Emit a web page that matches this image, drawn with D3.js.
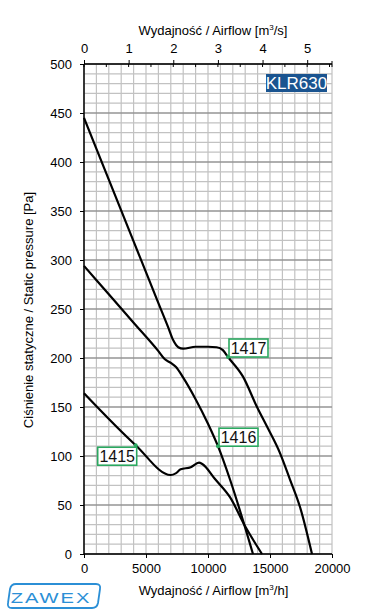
<!DOCTYPE html>
<html><head><meta charset="utf-8">
<script src="https://cdn.jsdelivr.net/npm/d3@7"></script>
<style>body{margin:0;background:#fff;} svg{display:block;font-family:Arial,"Liberation Sans",sans-serif;}</style>
</head><body>
<svg id="c" width="391" height="614"></svg>
<script>
// Data (Q in m3/h, P in Pa)
const q1417 = [0,2000,4000,6000,6800,7200,7600,8000,9000,10000,10700,11200,11613,12823,13952,14758,15806,16613,17419,18387];
const p1417 = [445,382,319,256,231,218,211,209.5,211.5,211.5,211,208,201,181,150,130,103,76,48,0];
const q1416 = [0,2000,4000,6000,6500,7000,7400,8000,9000,10000,10806,11774,13629];
const p1416 = [294,265,236,207,199,195,191,180,158,133,110,76,0];
const q1415 = [0,4169,6992,7395,7798,8605,9274,9540,10565,11774,12984,14355];
const p1415 = [164,111,80.6,82.3,86.4,88.5,93.2,91.8,76.5,58,28.5,0];
const xTicks = [0,5000,10000,15000,20000];
const yTicks = [0,50,100,150,200,250,300,350,400,450,500];
const topTicks = [0,1,2,3,4,5];
const labels = [
  {name:"1417", q:11613, p:201, anchor:"bl"},
  {name:"1416", q:10806, p:110, anchor:"bl"},
  {name:"1415", q:4169, p:111, anchor:"tr"}
];
const modelName = "KLR630";

const svg = d3.select("#c");
const L=84, R=332, T=64, B=554;
const x = d3.scaleLinear().domain([0,20000]).range([L,R]);
const y = d3.scaleLinear().domain([0,500]).range([B,T]);
const xs = d3.scaleLinear().domain([0,20000/3600]).range([L,R]);

// grid
const g = svg.append("g");
d3.range(0,20001,1000).forEach(v=>{
  g.append("line").attr("x1",x(v)).attr("x2",x(v)).attr("y1",T).attr("y2",B)
   .attr("stroke", "#c2c2c2").attr("stroke-width", 1.2);
});
d3.range(0,501,10).forEach(v=>{
  g.append("line").attr("x1",L).attr("x2",R).attr("y1",y(v)).attr("y2",y(v))
   .attr("stroke", v%50===0 ? "#949494" : "#c2c2c2").attr("stroke-width", v%50===0?1.3:1.2);
});

// axes
const ax = svg.append("g").attr("transform",`translate(0,${B})`).call(d3.axisBottom(x).tickValues(xTicks).tickSize(4).tickPadding(6).tickFormat(d3.format("d")));
const ay = svg.append("g").attr("transform",`translate(${L},0)`).call(d3.axisLeft(y).tickValues(yTicks).tickSize(4).tickPadding(8));
const at = svg.append("g").attr("transform",`translate(0,${T})`).call(d3.axisTop(xs).tickValues(topTicks).tickSize(4).tickPadding(7).tickFormat(d3.format("d")));
// minor/lower top ticks
d3.range(0,5.6,0.5).forEach(v=>{
  svg.append("line").attr("x1",xs(v)).attr("x2",xs(v)).attr("y1",T).attr("y2",T+3).attr("stroke","#000");
});
svg.append("line").attr("x1",R).attr("x2",R).attr("y1",T-3).attr("y2",T+3).attr("stroke","#000");
[ax,ay,at].forEach(a=>{
  a.selectAll(".domain").attr("stroke","#000").attr("stroke-width",1.5);
  a.selectAll("text").attr("font-size",13).attr("fill","#000").attr("font-family","Arial, 'Liberation Sans', sans-serif");
});
ax.select(".domain").attr("d",`M${L},0H${R}`);
at.select(".domain").attr("d",`M${L},0H${R}`);
ay.select(".domain").attr("d",`M0,${T}V${B}`);

// curves
const line = d3.line().x(d=>x(d[0])).y(d=>y(d[1])).curve(d3.curveMonotoneX);
[[q1417,p1417],[q1416,p1416],[q1415,p1415]].forEach(([q,p])=>{
  svg.append("path").datum(q.map((v,i)=>[v,p[i]])).attr("d",line)
    .attr("fill","none").attr("stroke","#000").attr("stroke-width",2.2).attr("stroke-linejoin","round");
});

// labels
labels.forEach(l=>{
  const px=x(l.q), py=y(l.p), w=39, h=18;
  const bx = l.anchor==="bl" ? px+1 : px-w+1;
  const by = l.anchor==="bl" ? py-h : py+2;
  svg.append("rect").attr("x",bx).attr("y",by).attr("width",w).attr("height",h)
    .attr("fill","#fff").attr("stroke","#2ba860").attr("stroke-width",1.6);
  svg.append("text").attr("x",bx+w/2).attr("y",by+h/2+6).attr("text-anchor","middle")
    .attr("font-size",16).attr("fill","#111").text(l.name);
  svg.append("circle").attr("cx",px).attr("cy",py).attr("r",2).attr("fill","#2ba860");
});

// model badge
svg.append("rect").attr("x",266).attr("y",74).attr("width",61).attr("height",18).attr("fill","#1a5490");
svg.append("text").attr("x",296.5).attr("y",89).attr("text-anchor","middle").attr("font-size",17)
  .attr("fill","#fff").text(modelName);

// titles
const t1 = svg.append("text").attr("x",213).attr("y",35).attr("text-anchor","middle").attr("font-size",13).attr("fill","#000");
t1.append("tspan").text("Wydajność / Airflow [m");
t1.append("tspan").attr("font-size",8).attr("dy",-5).text("3");
t1.append("tspan").attr("dy",5).text("/s]");
const t2 = svg.append("text").attr("x",213.5).attr("y",595).attr("text-anchor","middle").attr("font-size",13).attr("fill","#000");
t2.append("tspan").text("Wydajność / Airflow [m");
t2.append("tspan").attr("font-size",8).attr("dy",-5).text("3");
t2.append("tspan").attr("dy",5).text("/h]");
svg.append("text").attr("transform","translate(33,310) rotate(-90)").attr("text-anchor","middle")
  .attr("font-size",13).attr("fill","#000").text("Ciśnienie statyczne / Static pressure [Pa]");

// logo
svg.append("path").attr("d","M16,584 H96 Q101,584 100,589 L98,603 Q97,608 92,608 H12 Q7,608 8,603 L10,589 Q11,584 16,584 Z")
  .attr("fill","none").attr("stroke","#2b8fd6").attr("stroke-width",1.8);
svg.append("text").attr("transform","translate(51,603) scale(1.3,1)").attr("text-anchor","middle").attr("font-size",15.5)
  .attr("letter-spacing",1.5).attr("fill","#2b8fd6").text("ZAWEX");
</script>
</body></html>
